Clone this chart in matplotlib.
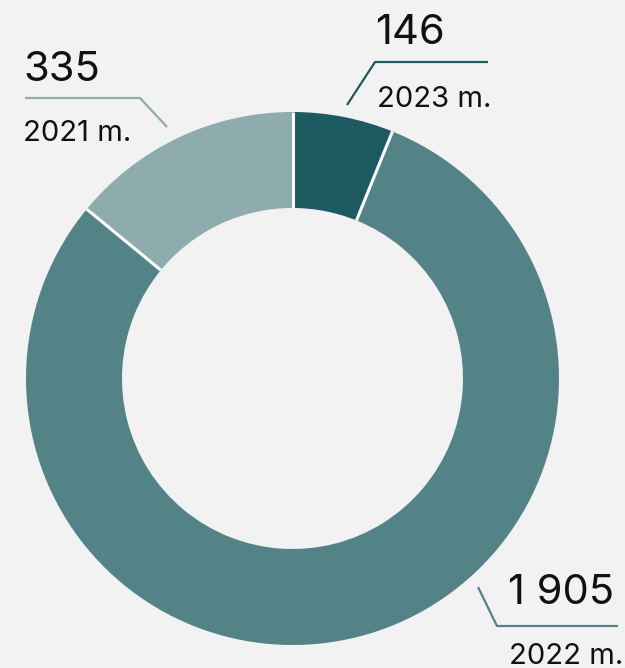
import numpy as np
import matplotlib.pyplot as plt

plt.rcParams['font.family'] = ['Inter', 'DejaVu Sans']

# data, clockwise from 12 o'clock
years = ['2023 m.', '2022 m.', '2021 m.']
values = [146, 1905, 335]
colors = ['#1d5961', '#548387', '#8eabad']

W, H = 625, 668
fig = plt.figure(figsize=(W / 100, H / 100), dpi=100)
fig.patch.set_facecolor('#f2f2f2')
ax = fig.add_axes([0, 0, 1, 1])

cx, cy, r, ring = 292.5, H - 378.5, 266.5, 96
wedges, _ = ax.pie(values, colors=colors, startangle=90, counterclock=False,
                   center=(cx, cy), radius=r, frame=True,
                   wedgeprops=dict(width=ring, edgecolor='none'))
ax.set_xlim(0, W)
ax.set_ylim(0, H)
ax.set_aspect('equal')
ax.axis('off')

# white separators between slices
for w in wedges:
    a = np.deg2rad(w.theta1)
    ax.plot([cx + (r - ring) * np.cos(a), cx + r * np.cos(a)],
            [cy + (r - ring) * np.sin(a), cy + r * np.sin(a)],
            color='white', linewidth=2.2, solid_capstyle='butt')


def fmt(v):
    return f'{v:,}'.replace(',', ' ')


# value text pos, year text pos, leader line points (pixels from top-left)
labels = [
    ((375, 44), (377, 107), [(347, 105), (375, 62), (488, 62)]),
    ((508, 604), (509, 664), [(478, 587), (497, 626), (618, 626)]),
    ((23, 81), (23, 141), [(25, 98), (140, 98), (167, 127)]),
]

for (val, yr, c, (vp, yp, line)) in zip(values, years, colors, labels):
    ax.text(vp[0], H - vp[1], fmt(val), fontsize=30, color='#111111',
            ha='left', va='baseline')
    ax.text(yp[0], H - yp[1], yr, fontsize=21, color='#111111',
            ha='left', va='baseline')
    xs = [p[0] for p in line]
    ys = [H - p[1] for p in line]
    ax.plot(xs, ys, color=c, linewidth=1.6, solid_capstyle='butt')

fig.savefig('out.png', dpi=100, facecolor=fig.get_facecolor())
